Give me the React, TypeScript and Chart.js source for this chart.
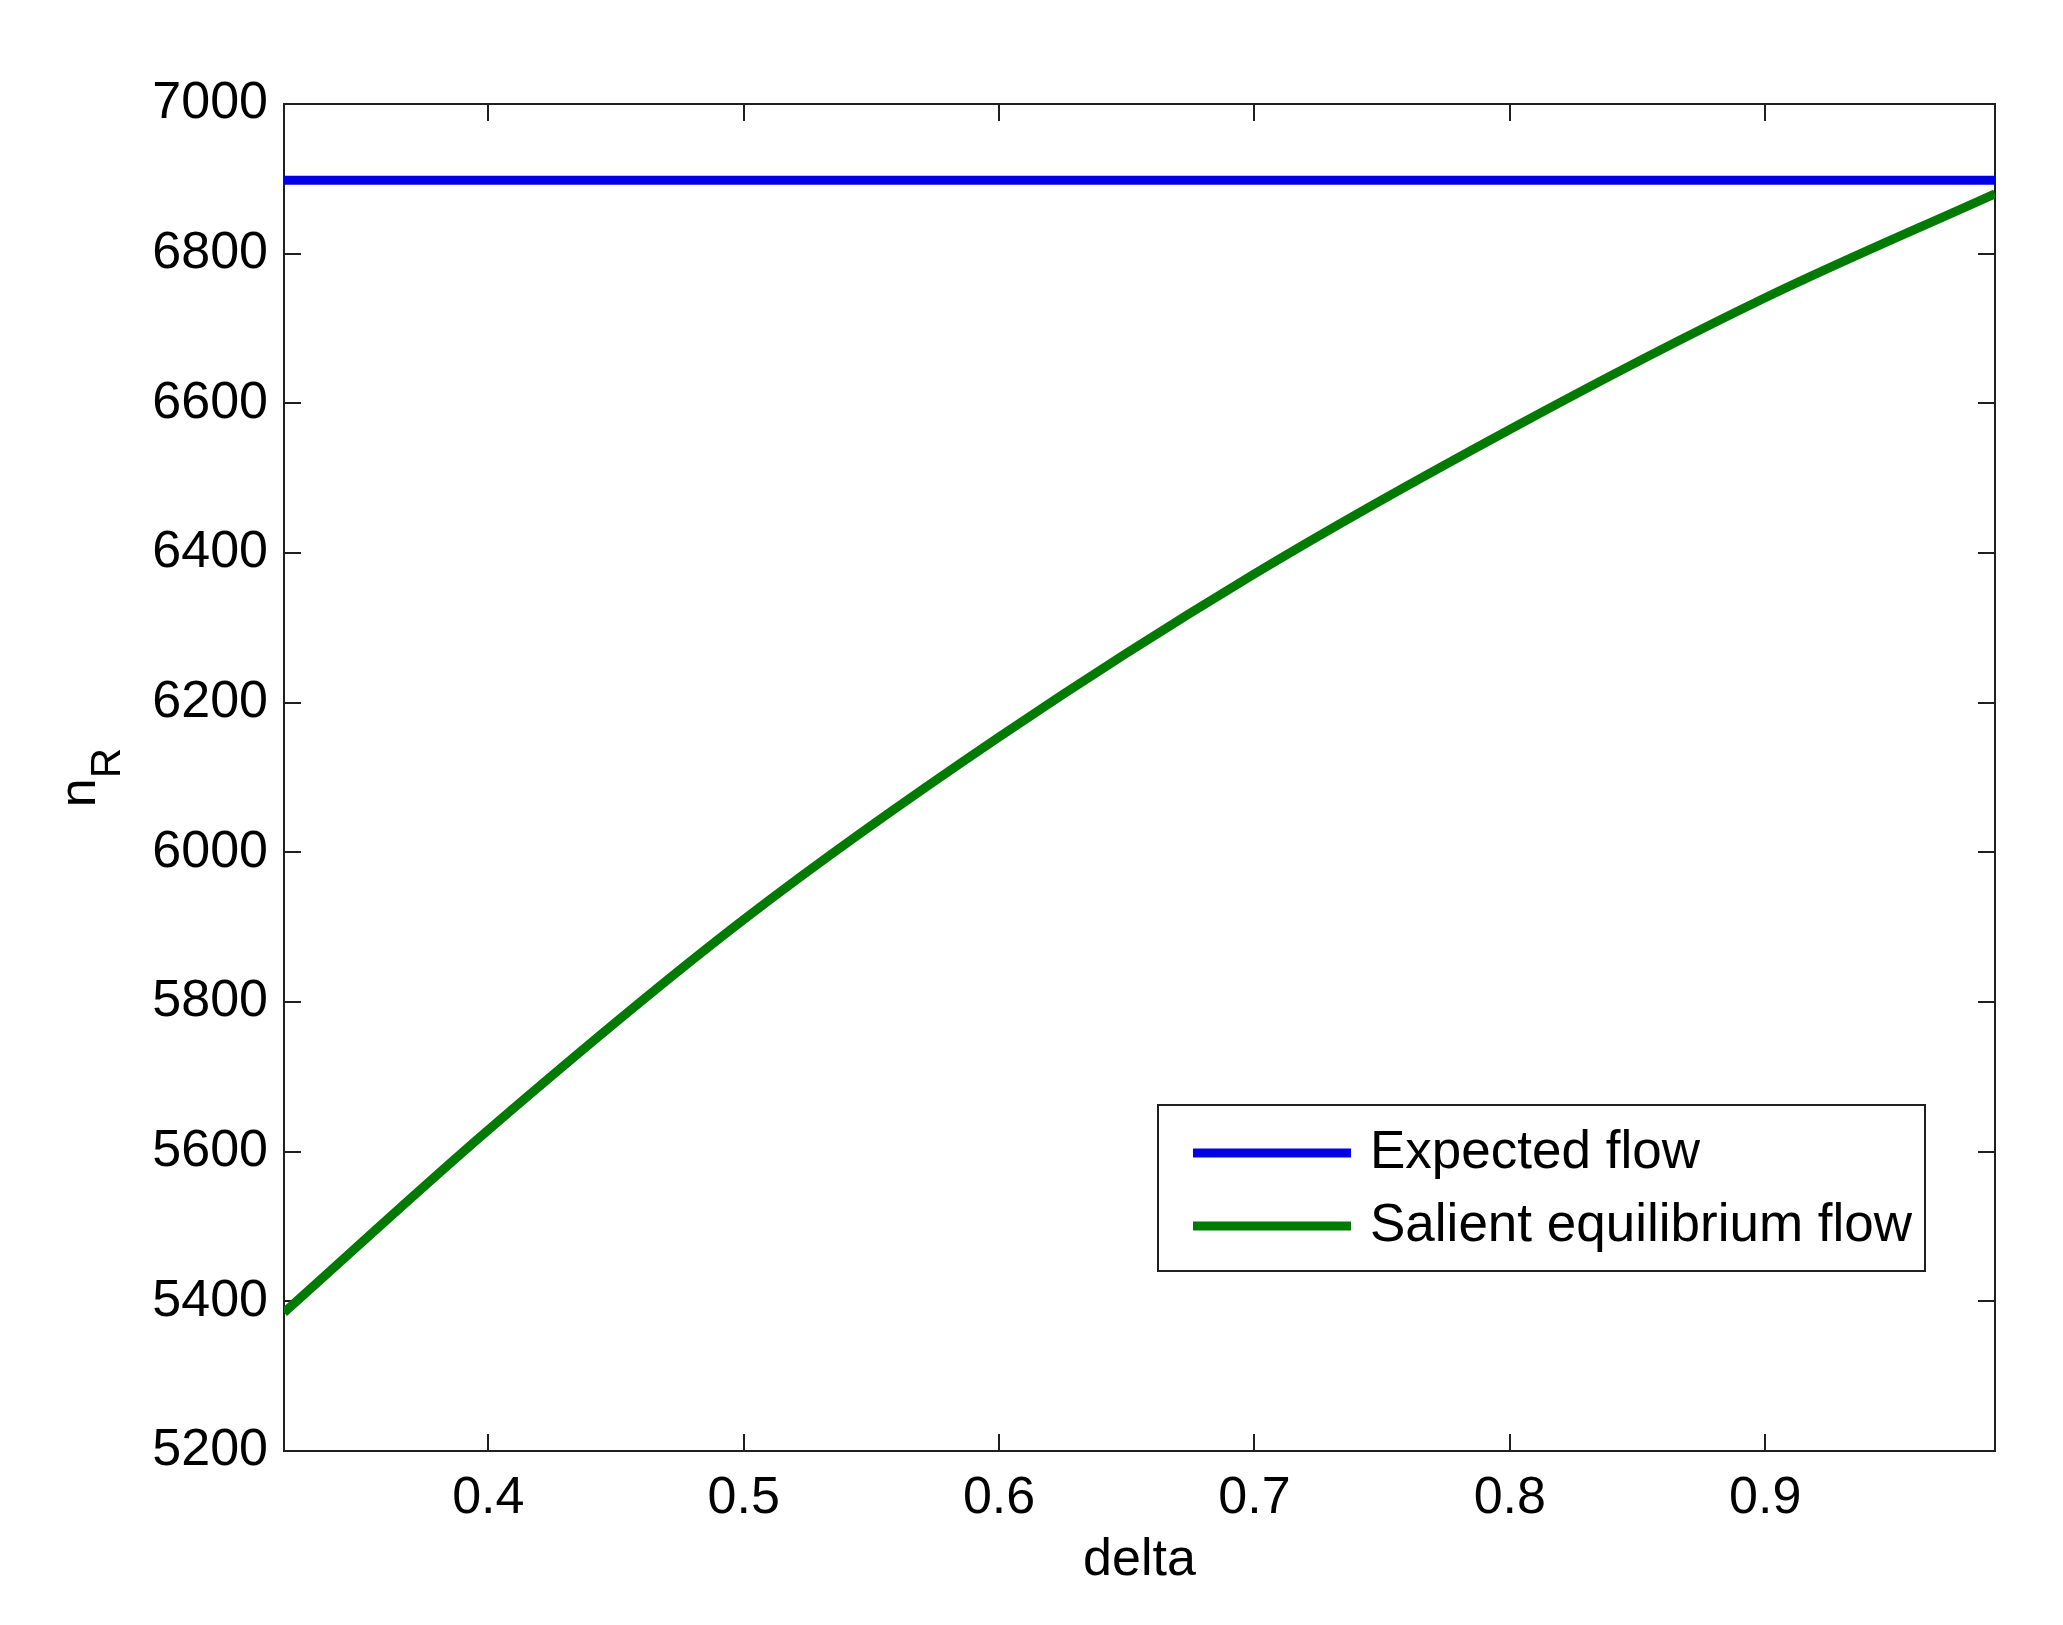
import React, { useEffect, useRef } from 'react';
import { Chart, registerables } from 'chart.js';

Chart.register(...registerables);

// ---- data ----
const deltaValues = [0.32, 0.4, 0.5, 0.6, 0.7, 0.8, 0.9, 0.99];
const salientFlow = [5385, 5629, 5910, 6154, 6372, 6565, 6741, 6880];
const expectedDelta = [0.32, 0.99];
const expectedFlow = [6898, 6898];
const xTickValues = [0.4, 0.5, 0.6, 0.7, 0.8, 0.9];
const yTickValues = [5200, 5400, 5600, 5800, 6000, 6200, 6400, 6600, 6800, 7000];
const seriesLabels = ['Expected flow', 'Salient equilibrium flow'];
const seriesColors = ['#0000e6', '#007a00'];
const xTitle = 'delta';
const yTitleMain = 'n';
const yTitleSub = 'R';

const FONT = "'Liberation Sans', Arial, Helvetica, sans-serif";

const matlabPlugin = {
  id: 'matlabFrame',
  beforeDatasetsDraw(chart: any) {
    const { ctx, chartArea: a, scales } = chart;
    ctx.save();
    ctx.strokeStyle = '#1f1f1f';
    ctx.lineWidth = 2;
    ctx.strokeRect(a.left, a.top, a.right - a.left, a.bottom - a.top);
    const tl = 17;
    ctx.beginPath();
    scales.x.ticks.forEach((t: any) => {
      const px = Math.round(scales.x.getPixelForValue(t.value));
      ctx.moveTo(px, a.bottom);
      ctx.lineTo(px, a.bottom - tl);
      ctx.moveTo(px, a.top);
      ctx.lineTo(px, a.top + tl);
    });
    scales.y.ticks.forEach((t: any) => {
      const py = Math.round(scales.y.getPixelForValue(t.value));
      ctx.moveTo(a.left, py);
      ctx.lineTo(a.left + tl, py);
      ctx.moveTo(a.right, py);
      ctx.lineTo(a.right - tl, py);
    });
    ctx.stroke();
    ctx.restore();
  },
  afterDraw(chart: any) {
    const { ctx, chartArea: a } = chart;
    ctx.save();
    // legend
    const bx = a.right - 837;
    const by = a.bottom - 346;
    const bw = 767;
    const bh = 166;
    ctx.fillStyle = '#ffffff';
    ctx.fillRect(bx, by, bw, bh);
    ctx.strokeStyle = '#1f1f1f';
    ctx.lineWidth = 2;
    ctx.strokeRect(bx, by, bw, bh);
    ctx.font = `53px ${FONT}`;
    ctx.textBaseline = 'middle';
    ctx.textAlign = 'left';
    chart.data.datasets.forEach((ds: any, i: number) => {
      const y = by + 48 + i * 73;
      ctx.strokeStyle = ds.borderColor;
      ctx.lineWidth = 9;
      ctx.beginPath();
      ctx.moveTo(bx + 35, y);
      ctx.lineTo(bx + 193, y);
      ctx.stroke();
      ctx.fillStyle = '#000';
      ctx.fillText(ds.label, bx + 212, y);
    });
    // y title with subscript
    const mainSize = 52;
    const subSize = 42;
    ctx.font = `${mainSize}px ${FONT}`;
    const wMain = ctx.measureText(yTitleMain).width;
    ctx.font = `${subSize}px ${FONT}`;
    const wSub = ctx.measureText(yTitleSub).width;
    const total = wMain + wSub;
    const cy = (a.top + a.bottom) / 2;
    ctx.translate(95, cy + total / 2);
    ctx.rotate(-Math.PI / 2);
    ctx.fillStyle = '#000';
    ctx.textBaseline = 'alphabetic';
    ctx.font = `${mainSize}px ${FONT}`;
    ctx.fillText(yTitleMain, 0, 0);
    ctx.font = `${subSize}px ${FONT}`;
    ctx.fillText(yTitleSub, wMain, 25);
    ctx.restore();
  },
};

export default function App() {
  const ref = useRef<HTMLCanvasElement>(null);
  useEffect(() => {
    if (!ref.current) return;
    const chart = new Chart(ref.current, {
      type: 'line',
      data: {
        datasets: [
          {
            label: seriesLabels[0],
            data: expectedDelta.map((x, i) => ({ x, y: expectedFlow[i] })),
            borderColor: seriesColors[0],
            backgroundColor: seriesColors[0],
            borderWidth: 9,
            pointRadius: 0,
            fill: false,
          },
          {
            label: seriesLabels[1],
            data: deltaValues.map((x, i) => ({ x, y: salientFlow[i] })),
            borderColor: seriesColors[1],
            backgroundColor: seriesColors[1],
            borderWidth: 9,
            pointRadius: 0,
            fill: false,
            cubicInterpolationMode: 'monotone',
          },
        ],
      },
      options: {
        animation: false,
        responsive: false,
        events: [],
        layout: { padding: { top: 104, right: 68, left: 0, bottom: 0 } },
        plugins: { legend: { display: false }, tooltip: { enabled: false } },
        scales: {
          x: {
            type: 'linear',
            min: 0.32,
            max: 0.99,
            grid: { display: false, drawTicks: false },
            border: { display: false },
            afterBuildTicks: (s: any) => {
              s.ticks = xTickValues.map((v) => ({ value: v }));
            },
            afterFit: (s: any) => {
              s.height = 174;
            },
            ticks: {
              font: { family: FONT, size: 52 },
              color: '#000',
              padding: 16,
              maxRotation: 0,
              autoSkip: false,
              callback: (v: any) => Number(v).toFixed(1),
            },
            title: {
              display: true,
              text: xTitle,
              font: { family: FONT, size: 52 },
              color: '#000',
              padding: { top: 0, bottom: 33 },
            },
          },
          y: {
            type: 'linear',
            min: 5200,
            max: 7000,
            grid: { display: false, drawTicks: false },
            border: { display: false },
            afterBuildTicks: (s: any) => {
              s.ticks = yTickValues.map((v) => ({ value: v }));
            },
            afterFit: (s: any) => {
              s.width = 284;
            },
            ticks: {
              font: { family: FONT, size: 52 },
              color: '#000',
              padding: 16,
              autoSkip: false,
              callback: (v: any) => String(v),
            },
          },
        },
      } as any,
      plugins: [matlabPlugin],
    });
    return () => chart.destroy();
  }, []);
  return (
    <div style={{ position: 'absolute', left: 0, top: 0, width: 2063, height: 1625, background: '#fff' }}>
      <canvas ref={ref} width={2063} height={1625} style={{ width: 2063, height: 1625 }} />
    </div>
  );
}
